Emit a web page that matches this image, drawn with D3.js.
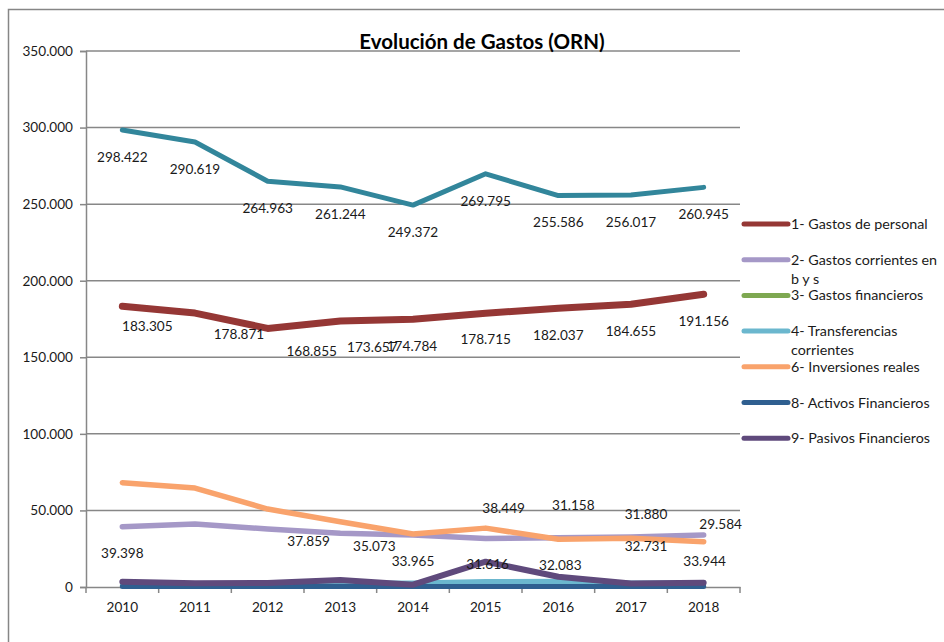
<!DOCTYPE html>
<html>
<head>
<meta charset="utf-8">
<script src="https://cdn.jsdelivr.net/npm/d3@7"></script>
<style>
  body { margin: 0; background: #fff; }
  svg { display: block; font-family: Lato, "Open Sans", sans-serif; }
</style>
</head>
<body>
<div id="chart"></div>
<script>
// data
const years = ["2010", "2011", "2012", "2013", "2014", "2015", "2016", "2017", "2018"];

const total       = [298422, 290619, 264963, 261244, 249372, 269795, 255586, 256017, 260945];
const personal    = [183305, 178871, 168855, 173657, 174784, 178715, 182037, 184655, 191156];
const corrientes  = [39398, 41200, 37859, 35073, 33965, 31616, 32083, 32731, 33944];
const financieros = [900, 800, 700, 600, 600, 700, 1000, 900, 700];
const transfer    = [1800, 2200, 2300, 2500, 2600, 3600, 3800, 2600, 2700];
const inversiones = [68100, 64600, 50900, 42600, 34600, 38449, 31158, 31880, 29584];
const activos     = [400, 400, 400, 400, 400, 400, 400, 400, 400];
const pasivos     = [3500, 2400, 2600, 4600, 1500, 16500, 6700, 2300, 2800];

const yTicks = [0, 50000, 100000, 150000, 200000, 250000, 300000, 350000];

const series = [
  { name: "1- Gastos de personal", values: personal, color: "#953735", width: 7 },
  { name: "2- Gastos corrientes en b y s", lines: ["2- Gastos corrientes en", "b y s"], values: corrientes, color: "#A598C7", width: 5.5 },
  { name: "3- Gastos financieros", values: financieros, color: "#7EA851", width: 5 },
  { name: "4- Transferencias corrientes", lines: ["4- Transferencias", "corrientes"], values: transfer, color: "#6BB7CE", width: 5 },
  { name: "6- Inversiones reales", values: inversiones, color: "#F9A36C", width: 5.5 },
  { name: "8- Activos Financieros", values: activos, color: "#2F5F90", width: 5 },
  { name: "9- Pasivos Financieros", values: pasivos, color: "#5F4A7C", width: 6 },
  { name: "Total", values: total, color: "#32869B", width: 5, noLegend: true }
];

// where excel put each data label, relative to its point (null = no label)
const labelOffsets = {
  "Total": years.map(() => [0, 27]),
  "1- Gastos de personal": [[25, 20], [44, 21], [44, 23], [32, 26], [-1, 27], [0, 26], [0, 27], [0, 27], [0, 27]],
  "2- Gastos corrientes en b y s": [[0, 27], null, [41, 12], [34, 13], [0, 26], [2, 26], [2, 27], [15, 9], [1, 26]],
  "6- Inversiones reales": [null, null, null, null, null, [18, -20], [15, -34], [15, -24], [17, -17]]
};

const W = 944, H = 642;
const plot = { left: 86, right: 740, top: 51, bottom: 587 };
const fontSize = 13.6;

const svg = d3.select("#chart").append("svg")
    .attr("width", W)
    .attr("height", H);

svg.append("rect").attr("width", W).attr("height", H).attr("fill", "#fff");

// chart frame (only top and left edges are inside the picture)
svg.append("path")
    .attr("d", "M8.5," + H + "V9.5H" + W)
    .attr("fill", "none")
    .attr("stroke", "#868686")
    .attr("stroke-width", 1.5);

const x = d3.scaleBand().domain(years).range([plot.left, plot.right]);
const y = d3.scaleLinear().domain([0, 350000]).range([plot.bottom, plot.top]);

const loc = d3.formatLocale({ decimal: ",", thousands: ".", grouping: [3], currency: ["", "€"] });
const fmt = loc.format(",.0f");

// gridlines
svg.append("g")
    .selectAll("line")
    .data(yTicks.filter(d => d > 0))
  .enter().append("line")
    .attr("x1", plot.left).attr("x2", plot.right)
    .attr("y1", d => y(d)).attr("y2", d => y(d))
    .attr("stroke", "#878787")
    .attr("stroke-width", 1.5);

// y axis
const yAxis = svg.append("g")
    .attr("transform", "translate(" + plot.left + ",0)")
    .call(d3.axisLeft(y).tickValues(yTicks).tickFormat(fmt).tickSize(6).tickPadding(7));

// x axis, ticks between the categories
const xAxis = svg.append("g")
    .attr("transform", "translate(0," + plot.bottom + ")")
    .call(d3.axisBottom(x).tickSize(0).tickPadding(15));

xAxis.selectAll(".xsep")
    .data(d3.range(years.length + 1))
  .enter().append("line")
    .attr("class", "xsep")
    .attr("x1", i => plot.left + i * x.step())
    .attr("x2", i => plot.left + i * x.step())
    .attr("y1", 0).attr("y2", 6)
    .attr("stroke", "#878787")
    .attr("stroke-width", 1.5);

[yAxis, xAxis].forEach(a => {
  a.select(".domain").attr("stroke", "#878787").attr("stroke-width", 1.5);
  a.selectAll(".tick line").attr("stroke", "#878787").attr("stroke-width", 1.5);
  a.selectAll("text").attr("font-size", fontSize).attr("fill", "#1a1a1a").attr("font-family", "Lato, sans-serif");
});

// lines
const line = d3.line()
    .x((d, i) => x(years[i]) + x.bandwidth() / 2)
    .y(d => y(d));

svg.append("g")
    .selectAll("path")
    .data(series)
  .enter().append("path")
    .attr("d", d => line(d.values))
    .attr("fill", "none")
    .attr("stroke", d => d.color)
    .attr("stroke-width", d => d.width)
    .attr("stroke-linejoin", "round")
    .attr("stroke-linecap", "round");

// data labels
const labels = [];
series.forEach(s => {
  const offs = labelOffsets[s.name];
  if (!offs) return;
  s.values.forEach((v, i) => {
    if (!offs[i]) return;
    labels.push({ v: v, i: i, dx: offs[i][0], dy: offs[i][1] });
  });
});

svg.append("g")
    .selectAll("text")
    .data(labels)
  .enter().append("text")
    .attr("x", d => x(years[d.i]) + x.bandwidth() / 2 + d.dx)
    .attr("y", d => y(d.v) + d.dy)
    .attr("dy", "0.35em")
    .attr("text-anchor", "middle")
    .attr("font-size", fontSize)
    .attr("fill", "#1a1a1a")
    .text(d => fmt(d.v));

// title
svg.append("text")
    .attr("x", 482)
    .attr("y", 49)
    .attr("text-anchor", "middle")
    .attr("font-size", 20.5)
    .attr("font-weight", "bold")
    .attr("fill", "#000")
    .text("Evolución de Gastos (ORN)");

// legend
const legendItems = series.filter(s => !s.noLegend);
const legend = svg.append("g")
    .selectAll("g")
    .data(legendItems)
  .enter().append("g")
    .attr("transform", (d, i) => "translate(742," + (224 + i * 35.7) + ")");

legend.append("line")
    .attr("x1", 2).attr("x2", 46)
    .attr("stroke", d => d.color)
    .attr("stroke-width", 5)
    .attr("stroke-linecap", "round");

legend.append("text")
    .attr("x", 49)
    .attr("font-size", 14.3)
    .attr("fill", "#1a1a1a")
  .selectAll("tspan")
    .data(d => d.lines || [d.name])
  .enter().append("tspan")
    .attr("x", 49)
    .attr("y", (d, i) => i * 19)
    .attr("dy", "0.35em")
    .text(d => d);
</script>
</body>
</html>
